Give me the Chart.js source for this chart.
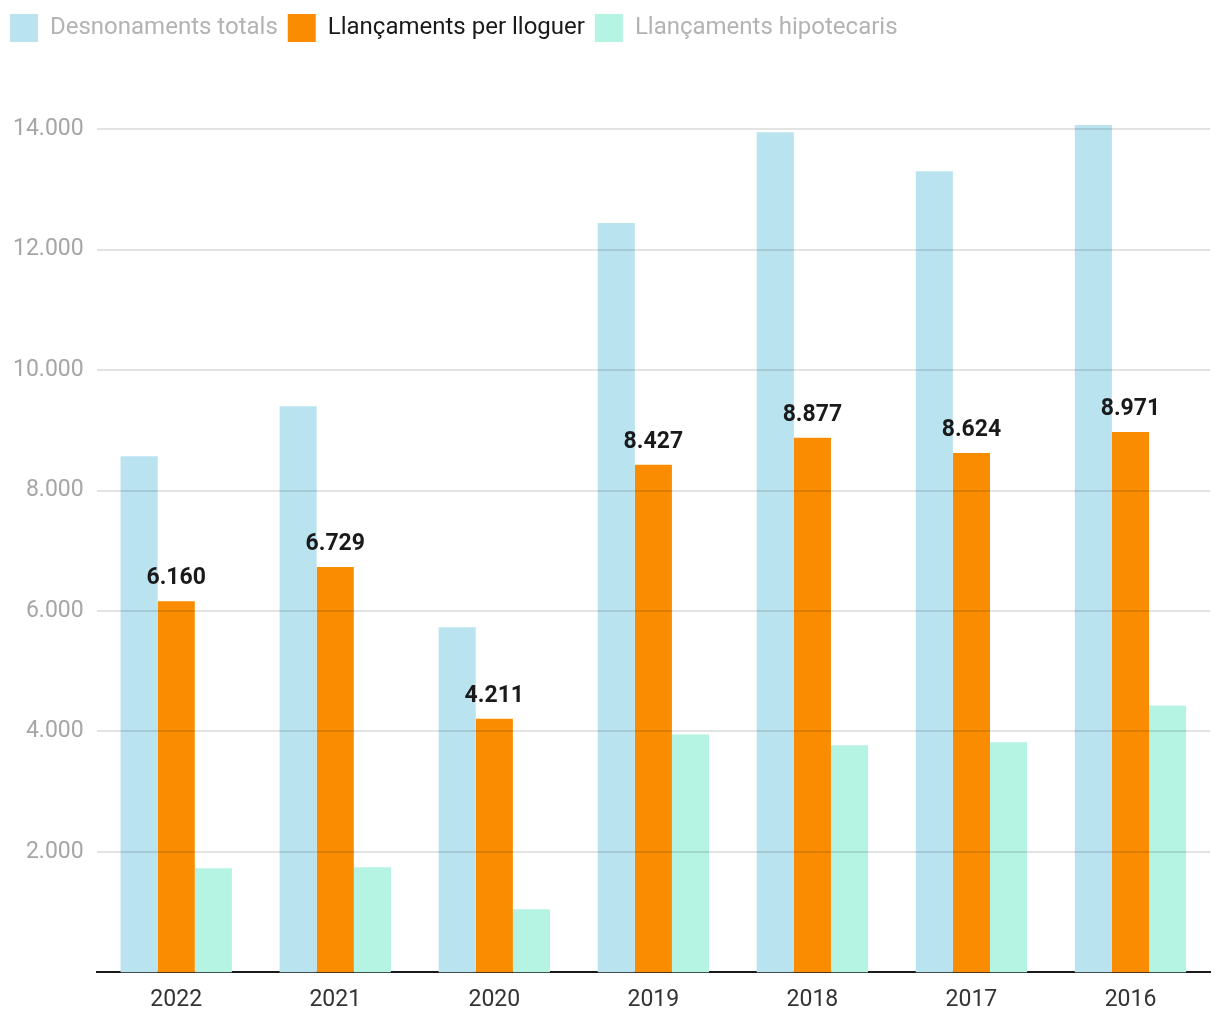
<!DOCTYPE html>
<html>
<head>
<meta charset="utf-8">
<script src="https://cdn.jsdelivr.net/npm/chart.js@4/dist/chart.umd.min.js"></script>
<style>
  html, body { margin: 0; padding: 0; background: #fff; }
  #wrap { width: 1220px; height: 1020px; position: relative; }
</style>
</head>
<body>
<div id="wrap"><canvas id="c"></canvas></div>
<script>
const categories = ['2022', '2021', '2020', '2019', '2018', '2017', '2016'];
const seriesNames = ['Desnonaments totals', 'Llançaments per lloguer', 'Llançaments hipotecaris'];
const desnonamentsTotals = [8570, 9400, 5730, 12440, 13950, 13300, 14070];
const llancamentsLloguer = [6160, 6729, 4211, 8427, 8877, 8624, 8971];
const llancamentsHipotecaris = [1730, 1745, 1050, 3950, 3770, 3820, 4430];
const yTicks = [2000, 4000, 6000, 8000, 10000, 12000, 14000];

const colors = ['#bae3f0', '#f98c00', '#b5f3e3'];
const legendTextColors = ['#b3b3b3', '#1a1a1a', '#b3b3b3'];

function fmt(v) {
  return String(Math.round(v)).replace(/\B(?=(\d{3})+(?!\d))/g, '.');
}

const labelPlugin = {
  id: 'barLabels',
  afterDatasetsDraw(chart) {
    const ctx = chart.ctx;
    const meta = chart.getDatasetMeta(1);
    ctx.save();
    ctx.font = 'bold 23px Roboto';
    ctx.fillStyle = '#1a1a1a';
    ctx.textAlign = 'center';
    ctx.textBaseline = 'alphabetic';
    meta.data.forEach((bar, i) => {
      ctx.fillText(fmt(llancamentsLloguer[i]), bar.x, bar.y - 17);
    });
    ctx.restore();
  }
};

const legendSpace = {
  id: 'legendSpace',
  beforeInit(chart) {
    const orig = chart.legend.fit;
    chart.legend.fit = function () {
      orig.bind(this)();
      this.height += 41;
    };
  }
};

new Chart(document.getElementById('c'), {
  type: 'bar',
  data: {
    labels: categories,
    datasets: [
      { label: seriesNames[0], data: desnonamentsTotals, backgroundColor: colors[0] },
      { label: seriesNames[1], data: llancamentsLloguer, backgroundColor: colors[1] },
      { label: seriesNames[2], data: llancamentsHipotecaris, backgroundColor: colors[2] }
    ]
  },
  options: {
    responsive: true,
    maintainAspectRatio: false,
    animation: false,
    layout: { padding: { left: 0, right: 10, top: 4, bottom: 0 } },
    datasets: { bar: { categoryPercentage: 0.7, barPercentage: 1.0 } },
    plugins: {
      tooltip: { enabled: false },
      legend: {
        position: 'top',
        align: 'start',
        labels: {
          boxWidth: 28,
          boxHeight: 28,
          padding: 10,
          font: { family: 'Roboto', size: 24 },
          generateLabels(chart) {
            return chart.data.datasets.map((ds, i) => ({
              text: ds.label,
              fillStyle: ds.backgroundColor,
              strokeStyle: ds.backgroundColor,
              lineWidth: 0,
              fontColor: legendTextColors[i],
              datasetIndex: i,
              hidden: false
            }));
          }
        }
      }
    },
    scales: {
      x: {
        grid: { display: false },
        border: { display: true, color: '#1a1a1a', width: 2 },
        ticks: { color: '#333', font: { family: 'Roboto', size: 23 }, padding: 6 }
      },
      y: {
        min: 0,
        max: 14600,
        afterBuildTicks(axis) {
          axis.ticks = yTicks.map(v => ({ value: v }));
        },
        grid: { color: 'rgba(0,0,0,0.11)', lineWidth: 2, drawTicks: false, z: 1 },
        border: { display: false },
        ticks: {
          color: '#a6a6a6',
          font: { family: 'Roboto', size: 23 },
          padding: 13,
          callback: v => fmt(v)
        }
      }
    }
  },
  plugins: [labelPlugin, legendSpace]
});
</script>
</body>
</html>
